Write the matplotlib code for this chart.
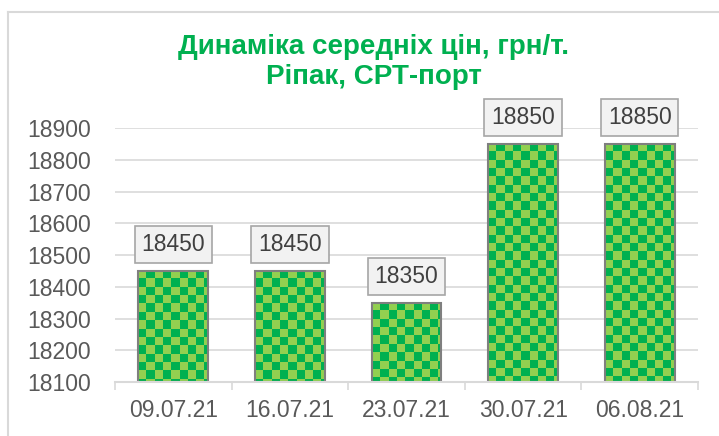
import numpy as np
import matplotlib
matplotlib.use("Agg")
import matplotlib.pyplot as plt
from matplotlib.lines import Line2D

dates = ["09.07.21", "16.07.21", "23.07.21", "30.07.21", "06.08.21"]
prices = [18450, 18450, 18350, 18850, 18850]
y_ticks = [18100, 18200, 18300, 18400, 18500, 18600, 18700, 18800, 18900]

plt.rcParams["font.family"] = ["Liberation Sans", "DejaVu Sans"]

W, H = 719, 436
fig = plt.figure(figsize=(W / 100, H / 100), dpi=100)
ax = fig.add_axes([115 / W, 1 - 382 / H, 583 / W, 254 / H])

ymin, ymax = 18100, 18900
x = np.arange(len(dates))
bars = ax.bar(x, [p - ymin for p in prices], bottom=ymin, width=0.6,
              facecolor="none", edgecolor="#7F7F7F", linewidth=1.5, zorder=3)

# checkerboard fill, cells about 8.3 px
px_x = 583 / len(dates)          # px per category
px_y = 254 / (ymax - ymin)       # px per unit
cell = 8.3
cx, cy = cell / px_x, cell / px_y
light, dark = np.array([146, 208, 80]) / 255, np.array([0, 176, 80]) / 255
for b in bars:
    x0, w = b.get_x(), b.get_width()
    top = b.get_y() + b.get_height()
    nc = int(np.ceil(w / cx)) + 1
    nr = int(np.ceil((top - ymin) / cy)) + 1
    ii, jj = np.indices((nr, nc))
    img = np.where(((ii + jj) % 2 == 0)[..., None], light, dark)
    im = ax.imshow(img, extent=(x0, x0 + nc * cx, top - nr * cy, top),
                   aspect="auto", interpolation="nearest", zorder=2)
    im.set_clip_path(b)

for xi, p in zip(x, prices):
    ax.annotate(str(p), (xi, p), xytext=(0, 19), textcoords="offset points",
                ha="center", va="center", fontsize=16.5, color="#404040",
                annotation_clip=False, zorder=5,
                bbox=dict(boxstyle="square,pad=0.3", fc="#F2F2F2",
                          ec="#A6A6A6", lw=1.2))

ax.set_xlim(-0.5, len(dates) - 0.5)
ax.set_ylim(ymin, ymax)
ax.set_yticks(y_ticks)
ax.set_yticklabels([str(v) for v in y_ticks])
ax.set_xticks(x)
ax.set_xticklabels(dates)
ax.set_xticks(np.arange(len(dates) + 1) - 0.5, minor=True)
ax.tick_params(axis="y", length=0, pad=17.5, labelsize=16.5, labelcolor="#595959")
ax.tick_params(axis="x", which="major", length=0, pad=12, labelsize=16.5,
               labelcolor="#595959")
ax.tick_params(axis="x", which="minor", length=6, width=1.2, color="#D9D9D9")
ax.grid(axis="y", color="#D9D9D9", linewidth=1.2, zorder=0)
ax.set_axisbelow(True)
for s in ["left", "right", "top"]:
    ax.spines[s].set_visible(False)
ax.spines["bottom"].set_color("#D9D9D9")
ax.spines["bottom"].set_linewidth(1.5)
ax.spines["bottom"].set_zorder(4)

fig.text(374 / W, 1 - 62 / H, "Динаміка середніх цін, грн/т.\nРіпак, СРТ-порт",
         ha="center", va="center", fontsize=20, fontweight="bold",
         color="#00B050", linespacing=1.2)

# chart area border
fig.add_artist(Line2D([8 / W, 8 / W], [0, 1 - 12 / H], color="#D9D9D9", lw=1.5))
fig.add_artist(Line2D([8 / W, 1], [1 - 12 / H, 1 - 12 / H], color="#D9D9D9", lw=1.5))

fig.savefig("out.png", dpi=100)
